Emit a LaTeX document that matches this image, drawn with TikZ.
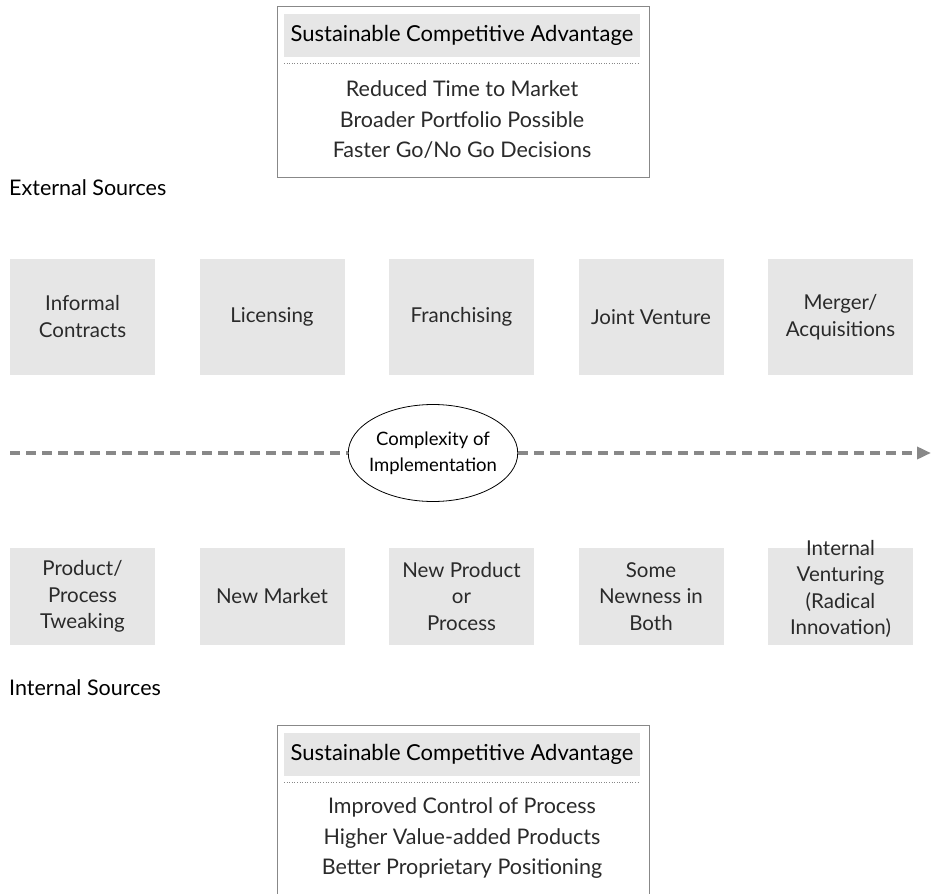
\documentclass[tikz,border=0pt]{standalone}
\usepackage{fontspec}
\setmainfont{Lato}
\usetikzlibrary{arrows.meta,shapes.geometric}
\definecolor{boxgray}{HTML}{E6E6E6}
\definecolor{linegray}{HTML}{888888}
\definecolor{txt}{HTML}{2A2A2A}
\tikzset{
  srcbox/.style={fill=boxgray, minimum width=145pt, minimum height=116pt, align=center, inner sep=0pt, text=txt, font=\fontsize{20.5}{27}\selectfont},
  srcboxlow/.style={srcbox, minimum height=97pt, font=\fontsize{20.5}{26.5}\selectfont},
  boxtext/.style={align=center, inner sep=0pt, text=txt, font=\fontsize{20.5}{26.5}\selectfont},
  hdr/.style={fill=boxgray, minimum width=356pt, minimum height=43pt, inner sep=0pt, text=black, font=\fontsize{22}{24}\selectfont},
  body/.style={align=center, text=txt, font=\fontsize{21.5}{30.5}\selectfont, inner sep=0pt},
  sect/.style={anchor=west, text=black, font=\fontsize{21.5}{24}\selectfont, inner sep=0pt},
  frame/.style={draw=linegray, line width=1pt},
  dots/.style={draw=linegray, line width=0.6pt, dash pattern=on 0.6pt off 2pt},
}
\begin{document}
\begin{tikzpicture}[x=1pt,y=-1pt]
\useasboundingbox (0,0) rectangle (932,894);
% top box
\draw[frame] (277,6) rectangle (649,177);
\node[hdr] (h1) at (462,35.5) {Sustainable Competitive Advantage};
\coordinate (d1a) at (284,63); \coordinate (d1b) at (640,63);
\draw[dots] (d1a) -- (d1b);
\node[body] (b1) at (462,120) {Reduced Time to Market\\Broader Portfolio Possible\\Faster Go/No Go Decisions};
% section labels
\node[sect] (ext) at (9,188) {External Sources};
\node[sect] (int) at (9,688) {Internal Sources};
% top row
\node[srcbox] (e1) at (82.5,317) {Informal\\Contracts};
\node[srcbox] (e2) at (272,317) {Licensing};
\node[srcbox] (e3) at (461.5,317) {Franchising};
\node[srcbox] (e4) at (651,317) {Joint Venture};
\node[srcbox] (e5) at (840.5,317) {Merger/\\Acquisitions};
% bottom row
\node[srcboxlow] (i1) at (82.5,596.5) {Product/\\Process\\Tweaking};
\node[srcboxlow] (i2) at (272,596.5) {New Market};
\node[srcboxlow] (i3) at (461.5,596.5) {New Product\\or\\Process};
\node[srcboxlow] (i4) at (651,596.5) {Some\\Newness in\\Both};
\node[srcboxlow] (i5) at (840.5,596.5) {};
\node[boxtext] (i5t) at (840.5,589) {Internal\\Venturing\\(Radical\\Innovation)};
% arrow
\coordinate (as) at (10,453);
\coordinate (ae) at (931,453);
\node[ellipse, draw=black, line width=0.8pt, fill=white, minimum width=168pt, minimum height=97pt, inner xsep=-4pt, inner ysep=0pt, align=center, text=black, font=\fontsize{18.5}{26}\selectfont] (cx) at (433,453) {Complexity of\\Implementation};
\draw[linegray, line width=3.5pt, dash pattern=on 10pt off 6pt] (as) -- (cx.west);
\draw[linegray, line width=3.5pt, dash pattern=on 10pt off 6pt, -{Triangle[length=14pt,width=12pt]}] (cx.east) -- (ae);
% bottom box
\coordinate (f1) at (277,900); \coordinate (f2) at (277,725); \coordinate (f3) at (649,725); \coordinate (f4) at (649,900);
\draw[frame] (f1) -- (f2) -- (f3) -- (f4);
\node[hdr] (h2) at (462,754.5) {Sustainable Competitive Advantage};
\coordinate (d2a) at (284,782); \coordinate (d2b) at (640,782);
\draw[dots] (d2a) -- (d2b);
\node[body] (b2) at (462,838.5) {Improved Control of Process\\Higher Value-added Products\\Better Proprietary Positioning};
\end{tikzpicture}
\end{document}
